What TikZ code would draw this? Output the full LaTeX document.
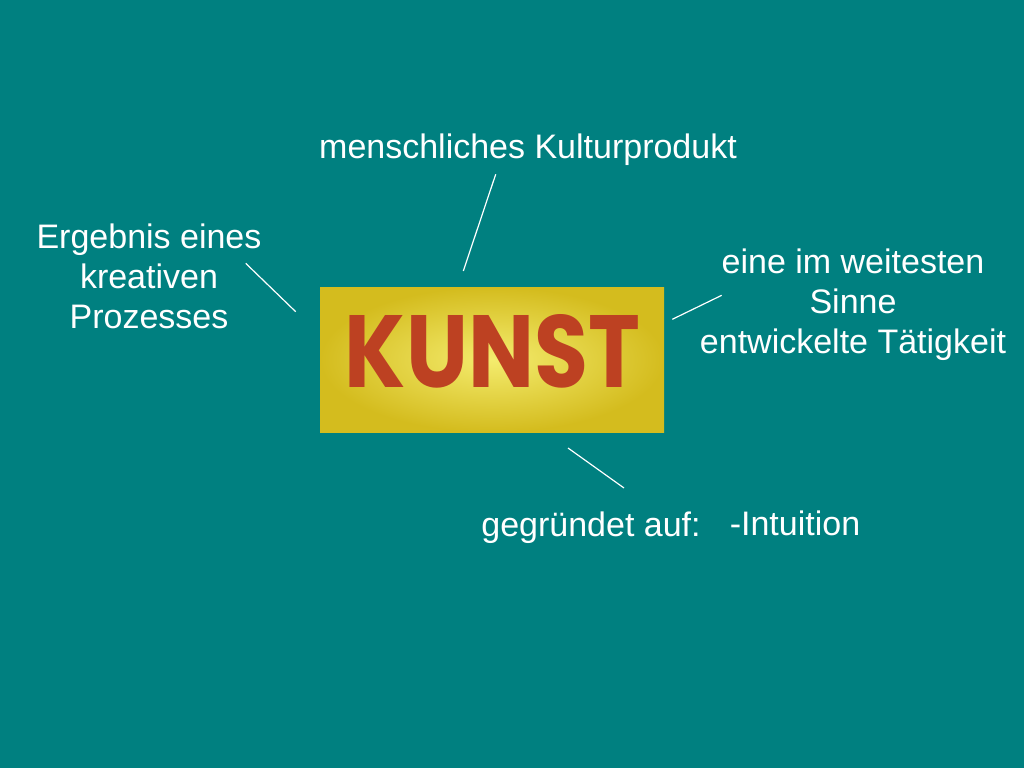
\documentclass[tikz,border=0pt]{standalone}
\usepackage{fontspec}
\setmainfont{Liberation Sans}
\newfontfamily\kfont{Poppins}
\usetikzlibrary{calc}
\definecolor{bgteal}{RGB}{0,128,128}
\definecolor{boxedge}{RGB}{212,188,30}
\definecolor{boxmid}{RGB}{244,236,110}
\definecolor{kunstred}{RGB}{189,65,34}
\tikzset{
  lbl/.style={text=white, font=\fontsize{34}{40}\selectfont, align=center, inner sep=0pt},
  conn/.style={draw=white, line width=1.2pt},
}
\begin{document}
\begin{tikzpicture}[x=1pt,y=-1pt]
\fill[bgteal] (0,0) rectangle (1024,768);
\useasboundingbox (0,0) rectangle (1024,768);
% central box
\node[inner sep=0pt, minimum width=344pt, minimum height=145pt, inner color=boxmid, outer color=boxedge, shading=radial] (box) at (492,359.5) {};
\node[text=kunstred, inner sep=0pt] (kunst) at (492.5,351.5) {\resizebox{295pt}{73pt}{\kfont\bfseries KUNST}};
% labels
\node[lbl] (top) at (528,150) {menschliches Kulturprodukt};
\node[lbl] (left) at (149,276) {Ergebnis eines\\kreativen\\Prozesses};
\node[lbl] (right) at (853,305) {eine im weitesten\\Sinne\\entwickelte Tätigkeit};
\node[lbl] (bot) at (591,528) {gegründet auf:};
\node[lbl] (intu) at (795,523) {-Intuition};
% connector end points
\coordinate (t1) at (495.7,174.3);
\coordinate (t2) at (463.3,271);
\coordinate (l1) at (245.7,263.3);
\coordinate (l2) at (295.7,311.7);
\coordinate (r1) at (721.7,295.3);
\coordinate (r2) at (672.3,319.3);
\coordinate (b1) at (568,448);
\coordinate (b2) at (624,488);
\draw[conn] (t1) -- (t2);
\draw[conn] (l1) -- (l2);
\draw[conn] (r1) -- (r2);
\draw[conn] (b1) -- (b2);
\end{tikzpicture}
\end{document}
